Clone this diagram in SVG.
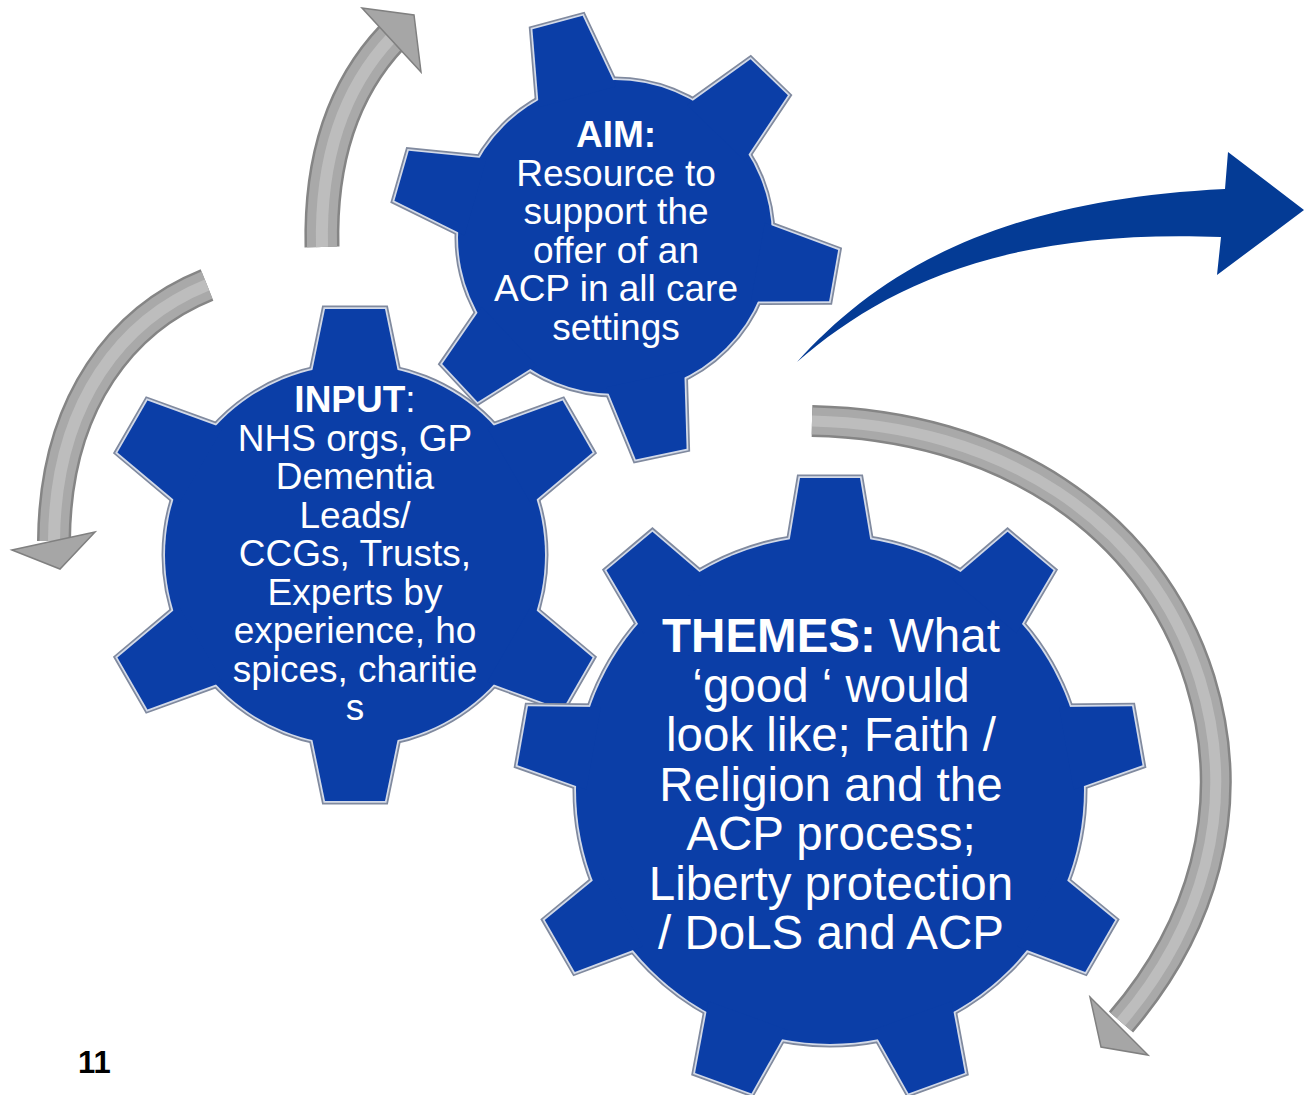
<svg xmlns="http://www.w3.org/2000/svg" width="1305" height="1095" viewBox="0 0 1305 1095">
<style>
  .txt { font-family: "Liberation Sans", Arial, sans-serif; fill: #ffffff; text-anchor: middle; }
  .aim, .inp { font-size: 37px; }
  .thm { font-size: 47.5px; }
  .b { font-weight: bold; }
  .edgeOut { fill: none; stroke: #808a9f; stroke-width: 7; stroke-linejoin: miter; }
  .edgeIn { fill: none; stroke: #d3dae8; stroke-width: 3.5; stroke-linejoin: miter; }
  .face { fill: #0b3ea7; stroke: none; }
  .g1 { fill: none; stroke: #858585; stroke-linecap: butt; }
  .g2 { fill: none; stroke: #a9a9a9; stroke-linecap: butt; }
  .g3 { fill: none; stroke: #bdbdbd; stroke-linecap: butt; }
  .head { fill: #a6a6a6; stroke: #808080; stroke-width: 1.5; stroke-linejoin: miter; }
  .num { font-family: "Liberation Sans", Arial, sans-serif; font-weight: bold; font-size: 31px; fill: #000000; }
</style>
<defs>
  <polygon id="tooth-aim" points="-40,-145 -26,-222 26,-222 40,-145"/>
  <polygon id="tooth-aim-short" points="-40,-145 -27,-213 25,-213 40,-145"/>
  <polygon id="tooth-inp" points="-44,-178 -30,-246 30,-246 44,-178"/>
  <polygon id="tooth-inp-long" points="-44,-178 -30,-257 30,-257 44,-178"/>
  <polygon id="tooth-thm" points="-42,-240 -30,-312 30,-312 42,-240"/>
  <g id="shape-aim">
    <circle cx="0" cy="0" r="157"/>
    <use href="#tooth-aim" transform="rotate(-15)"/>
    <use href="#tooth-aim" transform="rotate(44)"/>
    <use href="#tooth-aim" transform="rotate(100)"/>
    <use href="#tooth-aim" transform="rotate(168)"/>
    <use href="#tooth-aim-short" transform="rotate(227)"/>
    <use href="#tooth-aim" transform="rotate(286)"/>
  </g>
  <g id="shape-inp">
    <circle cx="0" cy="0" r="190"/>
    <use href="#tooth-inp" transform="rotate(0)"/>
    <use href="#tooth-inp-long" transform="rotate(60)"/>
    <use href="#tooth-inp-long" transform="rotate(120)"/>
    <use href="#tooth-inp" transform="rotate(180)"/>
    <use href="#tooth-inp-long" transform="rotate(240)"/>
    <use href="#tooth-inp-long" transform="rotate(300)"/>
  </g>
  <g id="shape-thm">
    <circle cx="0" cy="0" r="254"/>
    <use href="#tooth-thm" transform="rotate(0)"/>
    <use href="#tooth-thm" transform="rotate(40)"/>
    <use href="#tooth-thm" transform="rotate(80)"/>
    <use href="#tooth-thm" transform="rotate(120)"/>
    <use href="#tooth-thm" transform="rotate(160)"/>
    <use href="#tooth-thm" transform="rotate(200)"/>
    <use href="#tooth-thm" transform="rotate(240)"/>
    <use href="#tooth-thm" transform="rotate(280)"/>
    <use href="#tooth-thm" transform="rotate(320)"/>
  </g>
  <path id="arc-top" d="M322,247 C320,165 340,92 392,37"/>
  <path id="arc-left" d="M207,285 C125,318 55,400 54,541"/>
  <path id="arc-right" d="M812,421 C1000,425 1150,520 1200,680 C1240,810 1200,930 1121,1022"/>
</defs>

<rect x="0" y="0" width="1305" height="1095" fill="#ffffff"/>

<g id="node-input">
  <g transform="translate(355,555)">
    <use href="#shape-inp" class="edgeOut"/>
    <use href="#shape-inp" class="edgeIn"/>
    <use href="#shape-inp" class="face"/>
  </g>
  <text class="txt inp" x="355" y="412"><tspan class="b">INPUT</tspan>:</text>
  <text class="txt inp" x="355" y="451">NHS orgs, GP</text>
  <text class="txt inp" x="355" y="489">Dementia</text>
  <text class="txt inp" x="355" y="528">Leads/</text>
  <text class="txt inp" x="355" y="566">CCGs, Trusts,</text>
  <text class="txt inp" x="355" y="605">Experts by</text>
  <text class="txt inp" x="355" y="643">experience, ho</text>
  <text class="txt inp" x="355" y="682">spices, charitie</text>
  <text class="txt inp" x="355" y="720">s</text>
</g>

<g id="node-aim">
  <g transform="translate(615,237)">
    <use href="#shape-aim" class="edgeOut"/>
    <use href="#shape-aim" class="edgeIn"/>
    <use href="#shape-aim" class="face"/>
  </g>
  <text class="txt aim b" x="616" y="147">AIM:</text>
  <text class="txt aim" x="616" y="185.5">Resource to</text>
  <text class="txt aim" x="616" y="224">support the</text>
  <text class="txt aim" x="616" y="262.5">offer of an</text>
  <text class="txt aim" x="616" y="301">ACP in all care</text>
  <text class="txt aim" x="616" y="339.5">settings</text>
</g>

<g id="node-themes">
  <g transform="translate(830,790)">
    <use href="#shape-thm" class="edgeOut"/>
    <use href="#shape-thm" class="edgeIn"/>
    <use href="#shape-thm" class="face"/>
  </g>
  <text class="txt thm" x="831" y="652"><tspan class="b">THEMES:</tspan> What</text>
  <text class="txt thm" x="831" y="701.5">‘good ‘ would</text>
  <text class="txt thm" x="831" y="751">look like; Faith /</text>
  <text class="txt thm" x="831" y="800.5">Religion and the</text>
  <text class="txt thm" x="831" y="850">ACP process;</text>
  <text class="txt thm" x="831" y="899.5">Liberty protection</text>
  <text class="txt thm" x="831" y="949">/ DoLS and ACP</text>
</g>

<g id="connectors">
  <g id="arrow-top">
    <use href="#arc-top" class="g1" stroke-width="35"/>
    <use href="#arc-top" class="g2" stroke-width="30"/>
    <use href="#arc-top" class="g3" stroke-width="12"/>
    <polygon class="head" points="362,8 414,15 421,72"/>
  </g>
  <g id="arrow-left">
    <use href="#arc-left" class="g1" stroke-width="34"/>
    <use href="#arc-left" class="g2" stroke-width="29"/>
    <use href="#arc-left" class="g3" stroke-width="12"/>
    <polygon class="head" points="12,550 60,569 95,532"/>
  </g>
  <g id="arrow-right">
    <use href="#arc-right" class="g1" stroke-width="32"/>
    <use href="#arc-right" class="g2" stroke-width="27"/>
    <use href="#arc-right" class="g3" stroke-width="11"/>
    <polygon class="head" points="1090,997 1101,1047 1148,1055"/>
  </g>
  <path id="arrow-blue" fill="#043b95" d="M797,362 C880,270 1000,200 1225,189 L1228,152 L1304,210 L1217,275 L1221,237 C1000,228 880,290 797,362 Z"/>
</g>

<text class="num" x="78" y="1073">11</text>
</svg>
